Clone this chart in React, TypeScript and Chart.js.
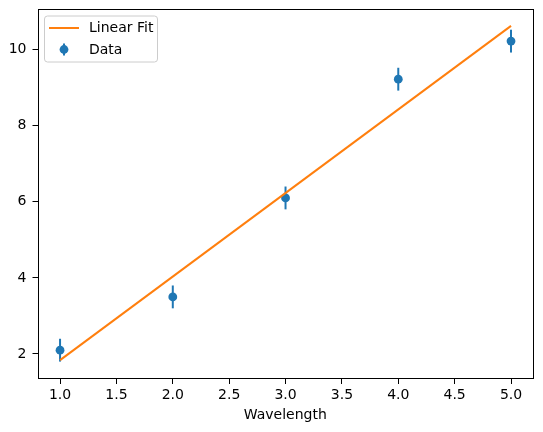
import React, { useEffect, useRef } from "react";
import { Chart, registerables } from "chart.js";

Chart.register(...registerables);

const xValues = [1, 2, 3, 4, 5];
const yValues = [2.1, 3.5, 6.1, 9.22, 10.22];
const yErrors = [0.3, 0.3, 0.3, 0.3, 0.3];
const fitX = [1, 5];
const fitY = [1.84, 10.62];
const xTicks = [1.0, 1.5, 2.0, 2.5, 3.0, 3.5, 4.0, 4.5, 5.0];
const yTicks = [2, 4, 6, 8, 10];
const seriesNames = ["Linear Fit", "Data"];
const xTitle = "Wavelength";

const BLUE = "#1f77b4";
const ORANGE = "#ff7f0e";
const FONT = "DejaVu Sans";
const LW = 2;

const errorBarPlugin = {
  id: "errorBars",
  beforeDatasetsDraw(chart: any) {
    const ctx = chart.ctx;
    const xs = chart.scales.x;
    const ys = chart.scales.y;
    ctx.save();
    ctx.strokeStyle = BLUE;
    ctx.lineWidth = LW;
    xValues.forEach((x, i) => {
      const px = xs.getPixelForValue(x);
      const top = ys.getPixelForValue(yValues[i] + yErrors[i]);
      const bot = ys.getPixelForValue(yValues[i] - yErrors[i]);
      ctx.beginPath();
      ctx.moveTo(px, top);
      ctx.lineTo(px, bot);
      ctx.stroke();
    });
    ctx.restore();
  },
  afterDraw(chart: any) {
    const ctx = chart.ctx;
    const a = chart.chartArea;
    ctx.save();
    // frame
    ctx.strokeStyle = "#000";
    ctx.lineWidth = 1;
    ctx.strokeRect(Math.round(a.left) + 0.5, Math.round(a.top) + 0.5, Math.round(a.right - a.left) - 1, Math.round(a.bottom - a.top) - 1);
    // legend
    const lx = a.left + 7;
    const ly = a.top + 7;
    const lw = 113;
    const lh = 46;
    const r = 3;
    ctx.beginPath();
    ctx.moveTo(lx + r, ly);
    ctx.lineTo(lx + lw - r, ly);
    ctx.quadraticCurveTo(lx + lw, ly, lx + lw, ly + r);
    ctx.lineTo(lx + lw, ly + lh - r);
    ctx.quadraticCurveTo(lx + lw, ly + lh, lx + lw - r, ly + lh);
    ctx.lineTo(lx + r, ly + lh);
    ctx.quadraticCurveTo(lx, ly + lh, lx, ly + lh - r);
    ctx.lineTo(lx, ly + r);
    ctx.quadraticCurveTo(lx, ly, lx + r, ly);
    ctx.closePath();
    ctx.fillStyle = "rgba(255,255,255,0.8)";
    ctx.fill();
    ctx.strokeStyle = "#cccccc";
    ctx.lineWidth = 1;
    ctx.stroke();

    const row1 = ly + 12;
    const row2 = ly + 33.5;
    ctx.strokeStyle = ORANGE;
    ctx.lineWidth = LW;
    ctx.beginPath();
    ctx.moveTo(lx + 4.5, row1);
    ctx.lineTo(lx + 34.5, row1);
    ctx.stroke();

    ctx.strokeStyle = BLUE;
    ctx.beginPath();
    ctx.moveTo(lx + 19.5, row2 - 6);
    ctx.lineTo(lx + 19.5, row2 + 6);
    ctx.stroke();
    ctx.fillStyle = BLUE;
    ctx.beginPath();
    ctx.arc(lx + 19.5, row2, 4.4, 0, Math.PI * 2);
    ctx.fill();

    ctx.fillStyle = "#000";
    ctx.font = `14px '${FONT}'`;
    ctx.textBaseline = "middle";
    ctx.textAlign = "left";
    ctx.fillText(seriesNames[0], lx + 44.5, row1 + 0.5);
    ctx.fillText(seriesNames[1], lx + 44.5, row2 + 0.5);
    ctx.restore();
  },
};

export default function App() {
  const ref = useRef<HTMLCanvasElement>(null);
  useEffect(() => {
    document.body.style.margin = "0";
    const canvas = ref.current!;
    const chart = new Chart(canvas, {
      type: "scatter",
      data: {
        datasets: [
          {
            type: "line",
            label: seriesNames[0],
            data: fitX.map((x, i) => ({ x, y: fitY[i] })),
            borderColor: ORANGE,
            borderWidth: LW,
            pointRadius: 0,
            fill: false,
          } as any,
          {
            type: "scatter",
            label: seriesNames[1],
            data: xValues.map((x, i) => ({ x, y: yValues[i] })),
            backgroundColor: BLUE,
            borderColor: BLUE,
            borderWidth: 0,
            pointRadius: 4.4,
            pointHoverRadius: 4.4,
          },
        ],
      },
      options: {
        animation: false,
        responsive: false,
        events: [],
        layout: { padding: { left: 0, right: 10, top: 9, bottom: 0 } },
        plugins: { legend: { display: false }, tooltip: { enabled: false } },
        scales: {
          x: {
            type: "linear",
            min: 0.8,
            max: 5.195,
            afterFit: (s: any) => {
              s.height = 53;
              s.paddingLeft = 0;
              s.paddingRight = 0;
            },
            afterBuildTicks: (s: any) => {
              s.ticks = xTicks.map((v) => ({ value: v }));
            },
            grid: { drawOnChartArea: false, drawTicks: true, tickLength: 5, tickColor: "#000", tickWidth: 1 },
            border: { display: false },
            ticks: {
              color: "#000",
              font: { family: FONT, size: 14 },
              padding: 3,
              maxRotation: 0,
              autoSkip: false,
              callback: (v: any) => Number(v).toFixed(1),
            },
            title: {
              display: true,
              text: xTitle,
              color: "#000",
              font: { family: FONT, size: 14 },
              padding: { top: 4, bottom: 8 },
            },
          },
          y: {
            type: "linear",
            min: 1.343,
            max: 11.064,
            afterFit: (s: any) => {
              s.width = 37.5;
              s.paddingTop = 0;
              s.paddingBottom = 0;
            },
            afterBuildTicks: (s: any) => {
              s.ticks = yTicks.map((v) => ({ value: v }));
            },
            grid: { drawOnChartArea: false, drawTicks: true, tickLength: 5, tickColor: "#000", tickWidth: 1 },
            border: { display: false },
            ticks: {
              color: "#000",
              font: { family: FONT, size: 14 },
              padding: 6,
              autoSkip: false,
              callback: (v: any) => String(v),
            },
          },
        },
      },
      plugins: [errorBarPlugin],
    });
    return () => chart.destroy();
  }, []);
  return <canvas ref={ref} width={543} height={432} style={{ display: "block", width: 543, height: 432 }} />;
}
